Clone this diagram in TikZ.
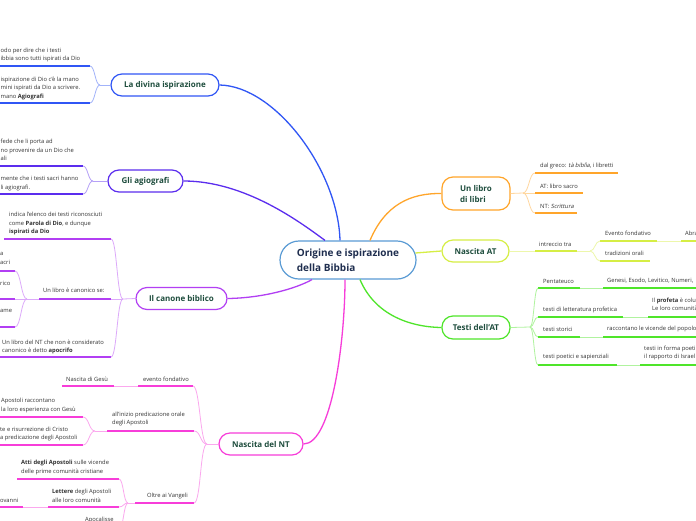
\documentclass[tikz,border=0pt]{standalone}
\usepackage{fontspec}
\setmainfont{Open Sans}[ItalicFont={Open Sans}, ItalicFeatures={FakeSlant=0.2}]
\definecolor{cA}{HTML}{3056F5}
\definecolor{cB}{HTML}{5B2DEE}
\definecolor{cV}{HTML}{B23FF3}
\definecolor{cM}{HTML}{F73DD9}
\definecolor{cO}{HTML}{FFA52A}
\definecolor{cY}{HTML}{D6EE45}
\definecolor{cG}{HTML}{4FE52A}
\definecolor{cC}{HTML}{5A9BD4}
\definecolor{titletext}{HTML}{1E4D3D}
\definecolor{centertext}{HTML}{1F2E4F}
\definecolor{leaftext}{HTML}{333333}
\tikzset{
 topic/.style={draw=#1, line width=1.2pt, fill=white, rounded corners=11pt, minimum height=22pt, inner sep=2pt, font=\fontsize{8}{10}\selectfont\bfseries, text=titletext},
 leaf/.style={anchor=west, inner sep=0pt, align=left, font=\fontsize{5.8}{8.5}\selectfont, text=leaftext},
 ul/.style={line width=1.7pt, draw=#1},
 cn/.style={line width=0.8pt, draw=#1!45},
 mainconn/.style={line width=1.3pt, draw=#1},
}
\begin{document}
\begin{tikzpicture}[x=1pt,y=-1pt]
\useasboundingbox (0,0) rectangle (696,520);
\fill[white] (0,0) rectangle (696,520);
\clip (0,0) rectangle (696,520);

% central node
\node[draw=cC, line width=1.2pt, fill=white, rounded corners=19pt, minimum width=136pt, minimum height=38pt, align=left, font=\fontsize{10}{15}\selectfont\bfseries, text=centertext] (c) at (348,260) {Origine e ispirazione\\della Bibbia};

% topics
\node[topic=cA, minimum width=108pt] (n1) at (165,85) {La divina ispirazione};
\node[topic=cB, minimum width=75pt] (n2) at (145.5,181) {Gli agiografi};
\node[topic=cV, minimum width=91pt] (n3) at (181.5,298.5) {Il canone biblico};
\node[topic=cM, minimum width=84pt] (n4) at (261,444) {Nascita del NT};
\node[topic=cO, minimum width=68pt, minimum height=33pt, align=left, font=\fontsize{8}{11}\selectfont\bfseries] (n5) at (476,193.5) {Un libro\\di libri};
\node[topic=cY, minimum width=67pt] (n6) at (475.5,251) {Nascita AT};
\node[topic=cG, minimum width=68pt, minimum height=23pt] (n7) at (476,327.5) {Testi dell'AT};

% leaves left
\node[leaf] (l11) at (0.5,55) {odo per dire che i testi\\ibbia sono tutti ispirati da Dio};
\node[leaf] (l12) at (0.5,88) {ispirazione di Dio c'è la mano\\mini ispirati da Dio a scrivere.\\mano \textbf{Agiografi}};
\node[leaf] (l21) at (0.5,150) {fede che li porta ad\\no provenire da un Dio che\\ali};
\node[leaf] (l22) at (0.5,183.5) {mente che i testi sacri hanno\\li agiografi.};
\node[leaf] (l31) at (9,223.5) {indica l'elenco dei testi riconosciuti\\come \textbf{Parola di Dio}, e dunque\\\textbf{ispirati da Dio}};
\node[leaf] (l32) at (43,290) {Un libro è canonico se:};
\node[leaf] (l321) at (0,258.5) {a\\acri};
\node[leaf] (l322) at (0,283) {rico};
\node[leaf] (l323) at (0,311) {ame};
\node[leaf] (l33) at (2,347) {Un libro del NT che non è considerato\\canonico è detto \textbf{apocrifo}};
\node[leaf] (l41) at (143,379) {evento fondativo};
\node[leaf] (l411) at (66,379) {Nascita di Gesù};
\node[leaf] (l42) at (112,419) {all'inizio predicazione orale\\degli Apostoli};
\node[leaf] (l421) at (1,405.5) {Apostoli raccontano\\la loro esperienza con Gesù};
\node[leaf] (l422) at (0,434) {te e risurrezione di Cristo\\a predicazione degli Apostoli};
\node[leaf] (l43) at (147,496) {Oltre ai Vangeli};
\node[leaf] (l431) at (21,467.5) {\textbf{Atti degli Apostoli} sulle vicende\\delle prime comunità cristiane};
\node[leaf] (l432) at (52,496) {\textbf{Lettere} degli Apostoli\\alle loro comunità};
\node[leaf] (l4321) at (0,500) {ovanni};
\node[leaf] (l433) at (85,520) {Apocalisse};
% leaves right
\node[leaf] (l51) at (540,166) {dal greco: \textit{tà biblìa}, i libretti};
\node[leaf] (l52) at (540,186) {AT: libro sacro};
\node[leaf] (l53) at (540,206) {NT: \textit{Scrittura}};
\node[leaf] (l61) at (539,244) {intreccio tra};
\node[leaf] (l611) at (605,233) {Evento fondativo};
\node[leaf] (l6111) at (685,233) {Abra};
\node[leaf] (l612) at (605,253) {tradizioni orali};
\node[leaf] (l71) at (543,281) {Pentateuco};
\node[leaf] (l711) at (607,281) {Genesi, Esodo, Levitico, Numeri,};
\node[leaf] (l72) at (543,310) {testi di letteratura profetica};
\node[leaf] (l721) at (652,304.5) {Il \textbf{profeta} è colu\\Le loro comunità};
\node[leaf] (l73) at (543,329) {testi storici};
\node[leaf] (l731) at (607,329) {raccontano le vicende del popolo};
\node[leaf] (l74) at (543,357) {testi poetici e sapienziali};
\node[leaf] (l741) at (644,353) {testi in forma poeti\\il rapporto di Israel};

% coordinates
\coordinate (j1) at (100,85);
\coordinate (u11a) at (0,66); \coordinate (u11b) at (90,66);
\coordinate (u12a) at (0,103); \coordinate (u12b) at (90,103);
\coordinate (j2) at (93,181);
\coordinate (u21a) at (0,166); \coordinate (u21b) at (83,166);
\coordinate (u22a) at (0,194); \coordinate (u22b) at (83,194);
\coordinate (j3) at (123,299); \coordinate (j32) at (27,299);
\coordinate (u31a) at (4,239); \coordinate (u31b) at (111,239);
\coordinate (u32a) at (39,299); \coordinate (u32b) at (111,299);
\coordinate (u321a) at (0,271); \coordinate (u321b) at (15,271);
\coordinate (u322a) at (0,299); \coordinate (u322b) at (15,299);
\coordinate (u323a) at (0,327); \coordinate (u323b) at (15,327);
\coordinate (u33a) at (0,357); \coordinate (u33b) at (111,357);
\coordinate (j4) at (207,444); \coordinate (j42) at (95,431); \coordinate (j43) at (128,503);
\coordinate (u41a) at (138,386); \coordinate (u41b) at (193,386);
\coordinate (u411a) at (62,386); \coordinate (u411b) at (114,386);
\coordinate (u42a) at (107,431); \coordinate (u42b) at (194,431);
\coordinate (u421a) at (0,417); \coordinate (u421b) at (83,417);
\coordinate (u422a) at (0,445); \coordinate (u422b) at (83,445);
\coordinate (u43a) at (135,503); \coordinate (u43b) at (194,503);
\coordinate (u431a) at (17,479); \coordinate (u431b) at (119,479);
\coordinate (u432a) at (48,507); \coordinate (u432b) at (119,507);
\coordinate (u4321a) at (0,507); \coordinate (u4321b) at (23,507);
\coordinate (u433b) at (119,530);
\coordinate (j5) at (523,193);
\coordinate (u51a) at (535,173); \coordinate (u51b) at (618,173);
\coordinate (u52a) at (535,193); \coordinate (u52b) at (583,193);
\coordinate (u53a) at (535,213); \coordinate (u53b) at (577,213);
\coordinate (u61a) at (535,251); \coordinate (u61b) at (577,251);
\coordinate (j61) at (590,251);
\coordinate (u611a) at (600,241); \coordinate (u611b) at (657,241);
\coordinate (u6111a) at (681,241); \coordinate (u6111b) at (700,241);
\coordinate (u612a) at (600,261); \coordinate (u612b) at (650,261);
\coordinate (j7) at (530,327);
\coordinate (u71a) at (538,288); \coordinate (u71b) at (580,288);
\coordinate (u711a) at (603,288); \coordinate (u711b) at (700,288);
\coordinate (u72a) at (538,317); \coordinate (u72b) at (623,317);
\coordinate (u721a) at (648,317); \coordinate (u721b) at (700,317);
\coordinate (u73a) at (538,337); \coordinate (u73b) at (580,337);
\coordinate (u731a) at (603,337); \coordinate (u731b) at (700,337);
\coordinate (u74a) at (538,365); \coordinate (u74b) at (617,365);
\coordinate (u741a) at (640,365); \coordinate (u741b) at (700,365);

% main connectors
\draw[mainconn=cA] (n1.east) .. controls (275,86) and (338,170) .. ([xshift=-8pt]c.north);
\draw[mainconn=cB] (n2.east) .. controls (245,181) and (300,222) .. ([xshift=-23pt]c.north);
\draw[mainconn=cV] (n3.east) .. controls (262,298) and (295,289) .. ([xshift=-36pt]c.south);
\draw[mainconn=cM] (n4.east) .. controls (332,444) and (345,340) .. ([xshift=-3pt]c.south);
\draw[mainconn=cO] ([xshift=22pt]c.north) .. controls (385,205) and (410,193) .. (n5.west);
\draw[mainconn=cY] ([xshift=-1.3pt,yshift=7pt]c.east) -- (n6.west);
\draw[mainconn=cG] ([xshift=12pt]c.south) .. controls (375,315) and (410,327) .. (n7.west);

% branch A
\draw[ul=cA] (u11a) -- (u11b);
\draw[ul=cA] (u12a) -- (u12b);
\draw[cn=cA] (n1.west) -- (j1);
\draw[cn=cA] (j1) .. controls +(-5,0) and +(5,0) .. (u11b);
\draw[cn=cA] (j1) .. controls +(-5,0) and +(5,0) .. (u12b);
% branch B
\draw[ul=cB] (u21a) -- (u21b);
\draw[ul=cB] (u22a) -- (u22b);
\draw[cn=cB] (n2.west) -- (j2);
\draw[cn=cB] (j2) .. controls +(-5,0) and +(5,0) .. (u21b);
\draw[cn=cB] (j2) .. controls +(-5,0) and +(5,0) .. (u22b);
% branch V
\draw[ul=cV] (u31a) -- (u31b);
\draw[ul=cV] (u32a) -- (u32b);
\draw[ul=cV] (u321a) -- (u321b);
\draw[ul=cV] (u322a) -- (u322b);
\draw[ul=cV] (u323a) -- (u323b);
\draw[ul=cV] (u33a) -- (u33b);
\draw[cn=cV] (n3.west) -- (j3);
\draw[cn=cV] (j3) .. controls +(-6,0) and +(6,0) .. (u31b);
\draw[cn=cV] (j3) -- (u32b);
\draw[cn=cV] (j3) .. controls +(-6,0) and +(6,0) .. (u33b);
\draw[cn=cV] (u32a) -- (j32);
\draw[cn=cV] (j32) .. controls +(-6,0) and +(6,0) .. (u321b);
\draw[cn=cV] (j32) -- (u322b);
\draw[cn=cV] (j32) .. controls +(-6,0) and +(6,0) .. (u323b);
% branch M
\draw[ul=cM] (u41a) -- (u41b);
\draw[ul=cM] (u411a) -- (u411b);
\draw[ul=cM] (u42a) -- (u42b);
\draw[ul=cM] (u421a) -- (u421b);
\draw[ul=cM] (u422a) -- (u422b);
\draw[ul=cM] (u43a) -- (u43b);
\draw[ul=cM] (u431a) -- (u431b);
\draw[ul=cM] (u432a) -- (u432b);
\draw[ul=cM] (u4321a) -- (u4321b);
\draw[cn=cM] (n4.west) -- (j4);
\draw[cn=cM] (j4) .. controls +(-7,0) and +(7,0) .. (u41b);
\draw[cn=cM] (j4) .. controls +(-7,0) and +(7,0) .. (u42b);
\draw[cn=cM] (j4) .. controls +(-7,0) and +(7,0) .. (u43b);
\draw[cn=cM] (u411b) -- (u41a);
\draw[cn=cM] (u42a) -- (j42);
\draw[cn=cM] (j42) .. controls +(-6,0) and +(6,0) .. (u421b);
\draw[cn=cM] (j42) .. controls +(-6,0) and +(6,0) .. (u422b);
\draw[cn=cM] (u43a) -- (j43);
\draw[cn=cM] (j43) .. controls +(-4.5,0) and +(4.5,0) .. (u431b);
\draw[cn=cM] (j43) .. controls +(-4.5,0) and +(4.5,0) .. (u432b);
\draw[cn=cM] (j43) .. controls +(-4.5,0) and +(4.5,0) .. (u433b);
\draw[cn=cM] (u4321b) -- (u432a);
% branch O
\draw[ul=cO] (u51a) -- (u51b);
\draw[ul=cO] (u52a) -- (u52b);
\draw[ul=cO] (u53a) -- (u53b);
\draw[cn=cO] (n5.east) -- (j5);
\draw[cn=cO] (j5) .. controls +(6,0) and +(-6,0) .. (u51a);
\draw[cn=cO] (j5) -- (u52a);
\draw[cn=cO] (j5) .. controls +(6,0) and +(-6,0) .. (u53a);
% branch Y
\draw[ul=cY] (u61a) -- (u61b);
\draw[ul=cY] (u611a) -- (u611b);
\draw[ul=cY] (u6111a) -- (u6111b);
\draw[ul=cY] (u612a) -- (u612b);
\draw[cn=cY] (n6.east) -- (u61a);
\draw[cn=cY] (u61b) -- (j61);
\draw[cn=cY] (j61) .. controls +(5,0) and +(-5,0) .. (u611a);
\draw[cn=cY] (j61) .. controls +(5,0) and +(-5,0) .. (u612a);
\draw[cn=cY] (u611b) -- (u6111a);
% branch G
\draw[ul=cG] (u71a) -- (u71b);
\draw[ul=cG] (u711a) -- (u711b);
\draw[ul=cG] (u72a) -- (u72b);
\draw[ul=cG] (u721a) -- (u721b);
\draw[ul=cG] (u73a) -- (u73b);
\draw[ul=cG] (u731a) -- (u731b);
\draw[ul=cG] (u74a) -- (u74b);
\draw[ul=cG] (u741a) -- (u741b);
\draw[cn=cG] (n7.east) -- (j7);
\draw[cn=cG] (j7) .. controls +(4,0) and +(-4,0) .. (u71a);
\draw[cn=cG] (j7) .. controls +(4,0) and +(-4,0) .. (u72a);
\draw[cn=cG] (j7) .. controls +(4,0) and +(-4,0) .. (u73a);
\draw[cn=cG] (j7) .. controls +(4,0) and +(-4,0) .. (u74a);
\draw[cn=cG] (u71b) -- (u711a);
\draw[cn=cG] (u72b) -- (u721a);
\draw[cn=cG] (u73b) -- (u731a);
\draw[cn=cG] (u74b) -- (u741a);
\end{tikzpicture}
\end{document}
